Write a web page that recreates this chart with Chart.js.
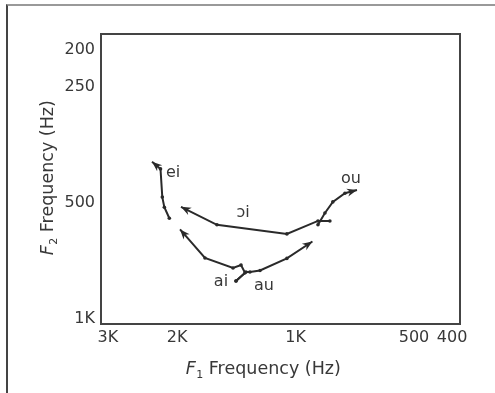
<!DOCTYPE html>
<html>
<head>
<meta charset="utf-8">
<script src="https://cdn.jsdelivr.net/npm/chart.js@4/dist/chart.umd.min.js"></script>
<style>
  html, body { margin: 0; padding: 0; background: #fff; overflow: hidden; }
  #wrap { position: relative; width: 495px; height: 393px; }
  #frame { position: absolute; left: 6px; top: 4px; right: 0; bottom: 0;
           border-top: 2px solid #999; border-left: 2px solid #444; }
  #c { position: absolute; left: 0; top: 0; }
</style>
</head>
<body>
<div id="wrap">
  <div id="frame"></div>
  <canvas id="c" width="495" height="393"></canvas>
</div>
<script>
// ===== Data (Hz) =====
const xTickValues = [400, 500, 1000, 2000, 3000];
const xTickLabels = ["400", "500", "1K", "2K", "3K"];
const yTickValues = [200, 250, 500, 1000];
const yTickLabels = ["200", "250", "500", "1K"];
const X_MIN = 382, X_MAX = 3122;   // axis ends
const Y_MIN = 182, Y_MAX = 1032;

// each trajectory: F1 (x) and F2 (y), last point = arrow tip
const eiF1 = [2093, 2155, 2181, 2204, 2316];
const eiF2 = [548, 513, 483, 408, 391];

const oiF1 = [818, 877, 1052, 1584, 1955];
const oiF2 = [557, 557, 602, 570, 512];

const ouF1 = [877, 842, 804, 749, 698];
const ouF2 = [570, 531, 497, 472, 463];

const aiF1 = [1417, 1344, 1376, 1442, 1699, 1966];
const aiF2 = [798, 760, 725, 738, 695, 586];

const auF1 = [1417, 1337, 1306, 1231, 1052, 906];
const auF2 = [798, 756, 756, 749, 697, 630];

// label text and where it sits (Hz)
const vowelNames = ["ei", "ɔi", "ou", "ai", "au"];
const vowelLabelF1 = [2048, 1360, 723, 1547, 1203];
const vowelLabelF2 = [418, 531, 433, 803, 822];

const INK = "#2a2a2a";
const TXT = "#383838";
const FONT = "'DejaVu Sans', sans-serif";

function toPts(xs, ys) { return xs.map((x, i) => ({ x: x, y: ys[i] })); }

function track(xs, ys) {
  return {
    data: toPts(xs, ys),
    borderColor: INK,
    backgroundColor: INK,
    borderWidth: 2,
    pointRadius: xs.map((_, i) => (i === xs.length - 1 ? 0 : 1.8)),
    pointBorderWidth: 0,
    tension: 0
  };
}

// arrowheads, plot box, axis titles, vowel labels
const extras = {
  id: "extras",
  afterDatasetsDraw(chart) {
    const ctx = chart.ctx;
    const a = chart.chartArea;
    const sx = chart.scales.x, sy = chart.scales.y;
    ctx.save();

    // arrow heads at the end of every track
    chart.data.datasets.forEach((ds, di) => {
      const pts = chart.getDatasetMeta(di).data;
      const p1 = pts[pts.length - 2], p2 = pts[pts.length - 1];
      const ang = Math.atan2(p2.y - p1.y, p2.x - p1.x);
      const L = 10, W = 4;
      const c = Math.cos(ang), s = Math.sin(ang);
      ctx.fillStyle = INK;
      ctx.beginPath();
      ctx.moveTo(p2.x, p2.y);
      ctx.lineTo(p2.x - L * c + W * s, p2.y - L * s - W * c);
      ctx.lineTo(p2.x - L * 0.7 * c, p2.y - L * 0.7 * s);
      ctx.lineTo(p2.x - L * c - W * s, p2.y - L * s + W * c);
      ctx.closePath();
      ctx.fill();
    });

    // vowel labels
    ctx.fillStyle = TXT;
    ctx.font = "16px " + FONT;
    ctx.textAlign = "center";
    ctx.textBaseline = "middle";
    vowelNames.forEach((t, i) => {
      ctx.fillText(t, sx.getPixelForValue(vowelLabelF1[i]), sy.getPixelForValue(vowelLabelF2[i]));
    });

    // plot box
    ctx.strokeStyle = "#444";
    ctx.lineWidth = 2;
    ctx.strokeRect(a.left, a.top, a.right - a.left, a.bottom - a.top);

    // axis titles with italic F and subscript
    function title(sub, cx, cy, rot) {
      ctx.save();
      ctx.translate(cx, cy);
      ctx.rotate(rot);
      ctx.textAlign = "left";
      ctx.textBaseline = "alphabetic";
      const fBig = "italic 17.5px " + FONT, fSub = "11px " + FONT, fN = "17.5px " + FONT;
      const rest = " Frequency (Hz)";
      ctx.font = fBig; const w1 = ctx.measureText("F").width;
      ctx.font = fSub; const w2 = ctx.measureText(sub).width;
      ctx.font = fN; const w3 = ctx.measureText(rest).width;
      let x = -(w1 + w2 + w3) / 2;
      const y = 6;
      ctx.fillStyle = TXT;
      ctx.font = fBig; ctx.fillText("F", x, y); x += w1 + 0.5;
      ctx.font = fSub; ctx.fillText(sub, x, y + 4); x += w2;
      ctx.font = fN; ctx.fillText(rest, x, y);
      ctx.restore();
    }
    title("1", 263, 368, 0);
    title("2", 47, 178, -Math.PI / 2);

    ctx.restore();
  }
};

new Chart(document.getElementById("c").getContext("2d"), {
  type: "line",
  data: {
    datasets: [
      track(eiF1, eiF2),
      track(oiF1, oiF2),
      track(ouF1, ouF2),
      track(aiF1, aiF2),
      track(auF1, auF2)
    ]
  },
  options: {
    responsive: false,
    animation: false,
    layout: { padding: { top: 34, right: 35, bottom: 0, left: 0 } },
    plugins: { legend: { display: false }, tooltip: { enabled: false } },
    scales: {
      x: {
        type: "logarithmic",
        reverse: true,
        min: X_MIN,
        max: X_MAX,
        grid: { display: false, drawTicks: false },
        border: { display: false },
        afterFit: (s) => { s.height = 69; },
        afterBuildTicks: (s) => { s.ticks = xTickValues.map(v => ({ value: v })); },
        ticks: {
          autoSkip: false,
          maxRotation: 0,
          padding: 4,
          color: TXT,
          font: { family: FONT, size: 16 },
          callback: (v) => xTickLabels[xTickValues.indexOf(v)]
        }
      },
      y: {
        type: "logarithmic",
        reverse: true,
        min: Y_MIN,
        max: Y_MAX,
        grid: { display: false, drawTicks: false },
        border: { display: false },
        afterFit: (s) => { s.width = 101; },
        afterBuildTicks: (s) => { s.ticks = yTickValues.map(v => ({ value: v })); },
        ticks: {
          autoSkip: false,
          padding: 6,
          color: TXT,
          font: { family: FONT, size: 16 },
          callback: (v) => yTickLabels[yTickValues.indexOf(v)]
        }
      }
    }
  },
  plugins: [extras]
});
</script>
</body>
</html>
